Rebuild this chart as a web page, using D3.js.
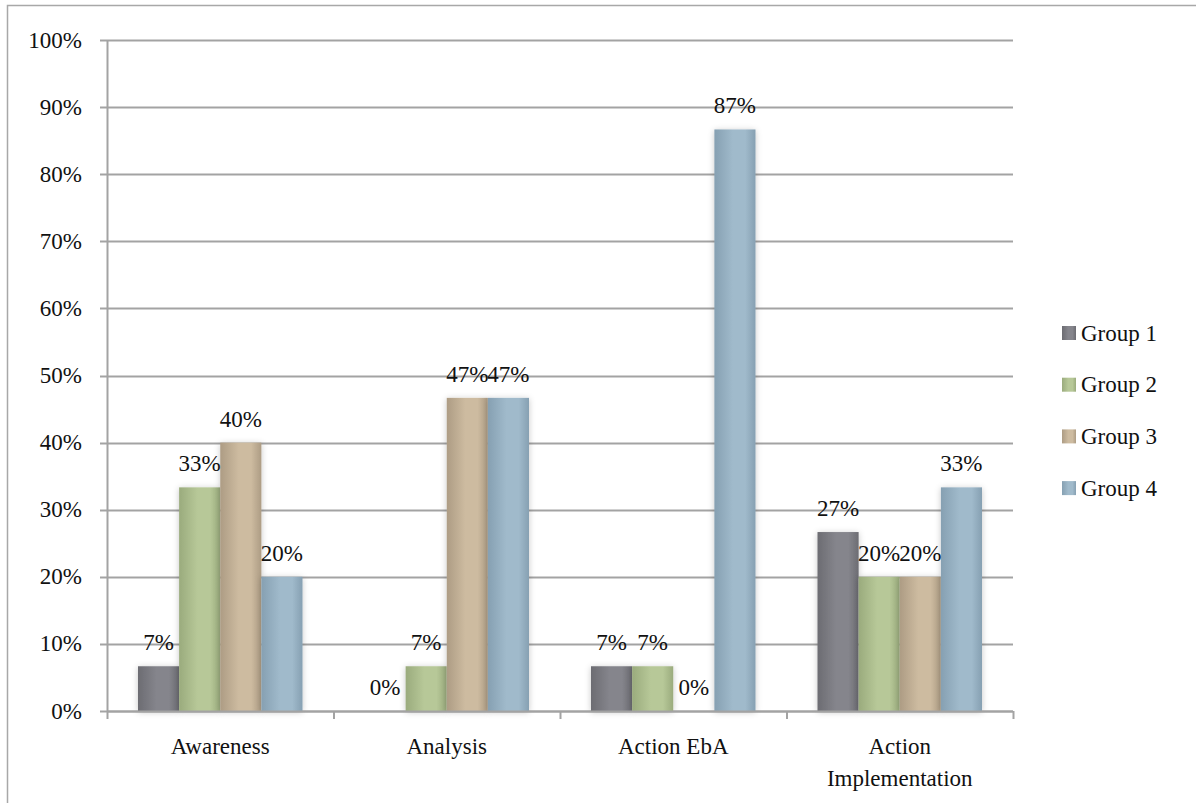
<!DOCTYPE html>
<html>
<head>
<meta charset="utf-8">
<script src="https://cdn.jsdelivr.net/npm/d3@7"></script>
</head>
<body style="margin:0; background:#fff">
<svg id="chart" width="1196" height="803"></svg>
<script>

// Data
const categories = ["Awareness", "Analysis", "Action EbA", "Action Implementation"];
const groups = ["Group 1", "Group 2", "Group 3", "Group 4"];
const group1 = [0.0667, 0.0, 0.0667, 0.2667];
const group2 = [0.3333, 0.0667, 0.0667, 0.2];
const group3 = [0.4, 0.4667, 0.0, 0.2];
const group4 = [0.2, 0.4667, 0.8667, 0.3333];
const yTicks = [0, 0.1, 0.2, 0.3, 0.4, 0.5, 0.6, 0.7, 0.8, 0.9, 1.0];

const seriesValues = [group1, group2, group3, group4];
const colours = [
    {mid: "#85858c", edge: "#6c6c72"},
    {mid: "#b7c898", edge: "#9aab7d"},
    {mid: "#cdbba0", edge: "#ad9c84"},
    {mid: "#a0bacb", edge: "#86a0b2"}
];

const FONT = "Liberation Serif";
const margin = {left: 107, right: 183, top: 40, bottom: 92};
const width = 1196, height = 803;
const innerWidth = width - margin.left - margin.right;
const innerHeight = height - margin.top - margin.bottom;
const fmt = d3.format(".0%");

const svg = d3.select("#chart");

// Outer frame
svg.append("path")
    .attr("d", `M7.5,${height} L7.5,5.5 L${width},5.5`)
    .attr("fill", "none")
    .attr("stroke", "#a8a8a8")
    .attr("stroke-width", 1.5);

// Gradients + shadow
const defs = svg.append("defs");
colours.forEach((c, i) => {
    const g = defs.append("linearGradient")
        .attr("id", `grad${i}`)
        .attr("x1", "0%").attr("x2", "100%").attr("y1", "0%").attr("y2", "0%");
    g.append("stop").attr("offset", "0%").attr("stop-color", c.edge);
    g.append("stop").attr("offset", "45%").attr("stop-color", c.mid);
    g.append("stop").attr("offset", "75%").attr("stop-color", c.mid);
    g.append("stop").attr("offset", "100%").attr("stop-color", c.edge);
});
const shadow = defs.append("filter").attr("id", "shadow")
    .attr("x", "-30%").attr("y", "-10%").attr("width", "160%").attr("height", "130%");
shadow.append("feDropShadow")
    .attr("dx", 0).attr("dy", 1).attr("stdDeviation", 3)
    .attr("flood-color", "#000").attr("flood-opacity", 0.22);

const chart = svg.append("g")
    .attr("transform", `translate(${margin.left}, ${margin.top})`);

// Scales
const x0 = d3.scaleBand()
    .domain(categories)
    .range([0, innerWidth]);
const x1 = d3.scaleBand()
    .domain(groups)
    .range([31, x0.bandwidth() - 31]);
const y = d3.scaleLinear()
    .domain([0, 1])
    .range([innerHeight, 0]);

// Gridlines
chart.append("g")
    .selectAll("line")
    .data(yTicks)
    .enter()
    .append("line")
    .attr("x1", -7)
    .attr("x2", innerWidth)
    .attr("y1", (d) => Math.round(y(d)) + 0.5)
    .attr("y2", (d) => Math.round(y(d)) + 0.5)
    .attr("stroke", "#a3a3a3")
    .attr("stroke-width", 2);

// Y axis line
chart.append("line")
    .attr("x1", 0.5).attr("x2", 0.5)
    .attr("y1", y(1)).attr("y2", innerHeight)
    .attr("stroke", "#a3a3a3").attr("stroke-width", 2);

// Y labels
chart.append("g")
    .selectAll("text")
    .data(yTicks)
    .enter()
    .append("text")
    .attr("x", -25)
    .attr("y", (d) => y(d))
    .attr("dy", "0.33em")
    .attr("text-anchor", "end")
    .attr("font-family", FONT)
    .attr("font-size", 23)
    .attr("fill", "#111")
    .text((d) => fmt(d));

// Category ticks
const boundaries = categories.map((c) => x0(c)).concat([innerWidth]);
chart.append("g")
    .selectAll("line")
    .data(boundaries)
    .enter()
    .append("line")
    .attr("x1", (d) => d + 0.5).attr("x2", (d) => d + 0.5)
    .attr("y1", innerHeight).attr("y2", innerHeight + 8)
    .attr("stroke", "#a3a3a3").attr("stroke-width", 2);

// Bars
const catGroups = chart.selectAll(".cat")
    .data(categories)
    .enter()
    .append("g")
    .attr("transform", (d) => `translate(${x0(d)}, 0)`);

catGroups.each(function(cat, ci) {
    const g = d3.select(this);
    const rows = groups.map((grp, gi) => ({grp, gi, v: seriesValues[gi][ci]}));
    g.selectAll("rect")
        .data(rows.filter((r) => r.v > 0))
        .enter()
        .append("rect")
        .attr("x", (r) => x1(r.grp))
        .attr("width", x1.bandwidth())
        .attr("y", (r) => y(r.v))
        .attr("height", (r) => innerHeight - y(r.v))
        .attr("fill", (r) => `url(#grad${r.gi})`)
        .attr("filter", "url(#shadow)");
    g.selectAll("text")
        .data(rows)
        .enter()
        .append("text")
        .attr("x", (r) => x1(r.grp) + x1.bandwidth() / 2)
        .attr("y", (r) => y(r.v) - 16)
        .attr("text-anchor", "middle")
        .attr("font-family", FONT)
        .attr("font-size", 23)
        .attr("fill", "#111")
        .text((r) => fmt(r.v));
});

// Redraw x axis baseline over bars
chart.append("line")
    .attr("x1", 0).attr("x2", innerWidth)
    .attr("y1", innerHeight + 0.5).attr("y2", innerHeight + 0.5)
    .attr("stroke", "#a3a3a3").attr("stroke-width", 2);

// Category labels
chart.append("g")
    .selectAll("text")
    .data(categories)
    .enter()
    .append("text")
    .attr("x", (d) => x0(d) + x0.bandwidth() / 2)
    .attr("y", innerHeight + 43)
    .attr("text-anchor", "middle")
    .attr("font-family", FONT)
    .attr("font-size", 23)
    .attr("fill", "#111")
    .each(function(d) {
        const words = d === "Action Implementation" ? ["Action", "Implementation"] : [d];
        d3.select(this).selectAll("tspan")
            .data(words)
            .enter()
            .append("tspan")
            .attr("x", x0(d) + x0.bandwidth() / 2)
            .attr("dy", (w, i) => i === 0 ? 0 : 32)
            .text((w) => w);
    });

// Legend
const legend = svg.append("g")
    .attr("transform", "translate(1062, 333)");
const items = legend.selectAll("g")
    .data(groups)
    .enter()
    .append("g")
    .attr("transform", (d, i) => `translate(0, ${i * 51.7})`);
items.append("rect")
    .attr("x", 0).attr("y", -7)
    .attr("width", 14).attr("height", 14)
    .attr("fill", (d, i) => `url(#grad${i})`);
items.append("text")
    .attr("x", 19).attr("y", 0)
    .attr("dy", "0.33em")
    .attr("font-family", FONT)
    .attr("font-size", 23)
    .attr("fill", "#111")
    .text((d) => d);

</script>
</body>
</html>
